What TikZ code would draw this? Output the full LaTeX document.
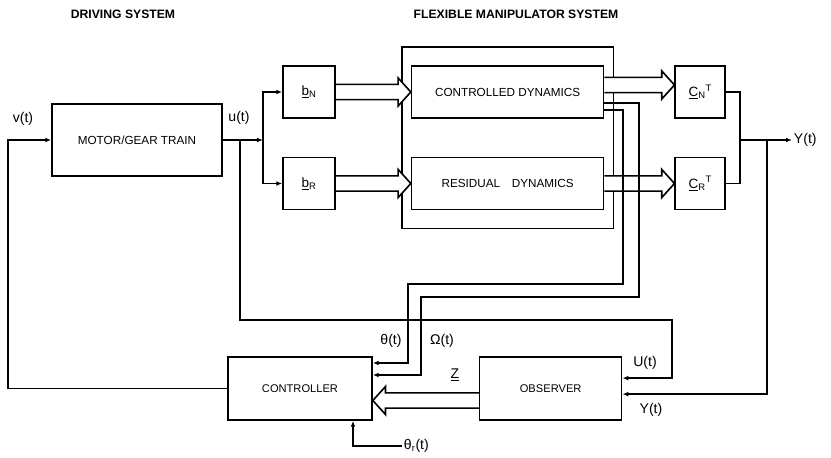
\documentclass[tikz,border=0pt]{standalone}
\usepackage{fontspec}
\setmainfont{Liberation Sans}
\usetikzlibrary{arrows.meta, positioning, calc, fit, backgrounds}

% hollow (double) arrow between two points of the same height
\newcommand{\fatarrow}[2]{%
  \coordinate (fa-b) at ($(#2)!0.38cm!(#1)$);
  \filldraw[line width=1.4pt, fill=white, draw=black] ($(#1)+(0,0.23cm)$) -- ($(fa-b)+(0,0.23cm)$)
    -- ($(fa-b)+(0,0.42cm)$) -- (#2) -- ($(fa-b)+(0,-0.42cm)$)
    -- ($(fa-b)+(0,-0.23cm)$) -- ($(#1)+(0,-0.23cm)$);
}

\begin{document}
\begin{tikzpicture}[x=0.03cm, y=-0.03cm, line width=1.4pt,
  blk/.style={rectangle, draw, minimum width=#1, minimum height=1.55cm,
              align=center, inner sep=2pt, font=\fontsize{10}{12}\selectfont},
  sig/.style={-{Latex[length=5pt, width=4pt]}},
  lbl/.style={inner sep=1pt, font=\fontsize{12}{14}\selectfont},
  mtx/.style={font=\fontsize{11.5}{13}\selectfont},
  title/.style={inner sep=1pt, font=\bfseries\fontsize{10.4}{12}\selectfont},
]
  \useasboundingbox (0,0) rectangle (831,458);

  % titles
  \node[title] (drvT) at (123,14) {DRIVING SYSTEM};
  \node[title] (flxT) at (516,14) {FLEXIBLE MANIPULATOR SYSTEM};

  % driving system
  \node[blk=5.1cm, minimum height=2.16cm] (motor) at (137,140) {MOTOR/GEAR TRAIN};
  \node[blk=1.56cm, mtx] (bN) at (309,92) {\underline{b}\textsubscript{N}};
  \node[blk=1.56cm, mtx] (bR) at (309,183.5) {\underline{b}\textsubscript{R}};

  % flexible manipulator
  \node[blk=5.76cm, right=2.25cm of bN] (cd) {CONTROLLED DYNAMICS};
  \node[blk=5.76cm, right=2.25cm of bR] (rd) {RESIDUAL\quad DYNAMICS};
  \node[blk=1.5cm, mtx, right=2.1cm of cd] (cN) {\underline{C}\textsubscript{N}\textsuperscript{T}};
  \node[blk=1.5cm, mtx, right=2.1cm of rd] (cR) {\underline{C}\textsubscript{R}\textsuperscript{T}};

  % controller and observer
  \node[blk=4.32cm, minimum height=1.89cm, font=\fontsize{9.5}{11}\selectfont] (ctrl) at (300,388.5) {CONTROLLER};
  \node[blk=4.26cm, minimum height=1.89cm, font=\fontsize{9.5}{11}\selectfont, right=3.18cm of ctrl] (obs) {OBSERVER};

  % outer box and hollow arrows
  \coordinate (cdO) at ($(cd.east)+(0,0.21cm)$);
  \coordinate (cNi) at (cN.west |- cdO);
  \coordinate (zS) at ($(obs.west)+(0,-0.36cm)$);
  \coordinate (zT) at (ctrl.east |- zS);
  \begin{scope}[on background layer]
    \node[draw, line width=1.4pt, fit=(cd)(rd), inner xsep=0.27cm, inner ysep=0.55cm] (flex) {};
    \fatarrow{bN.east}{cd.west}
    \fatarrow{bR.east}{rd.west}
    \fatarrow{cdO}{cNi}
    \fatarrow{rd.east}{cR.west}
    \fatarrow{zS}{zT}
  \end{scope}

  % input v(t)
  \coordinate (vL) at (8,140);
  \draw[sig] (ctrl.west) -| (vL) -- (motor.west);
  \node[lbl] (vLbl) at (23,119) {v(t)};

  % u(t) to b_N, b_R
  \coordinate (uJ) at (240,140);
  \coordinate (bJ) at (263,140);
  \draw (motor.east) -- (uJ);
  \draw[sig] (uJ) -- (bJ);
  \draw[sig] (bJ) |- (bN.west);
  \draw[sig] (bJ) |- (bR.west);
  \node[lbl] (uLbl) at (239,118) {u(t)};

  % output y(t)
  \coordinate (yJ) at (740,140);
  \coordinate (yF) at (767,140);
  \draw (cN.east) -| (yJ) |- (cR.east);
  \node[lbl, anchor=west] (yOut) at (792,140) {Y(t)};
  \draw[sig] (yJ) -- (yOut.west);

  % feedback to observer
  \coordinate (obsU) at ($(obs.east)+(0,0.31cm)$);
  \coordinate (obsY) at ($(obs.east)+(0,-0.17cm)$);
  \coordinate (uR) at (672,320);
  \draw[sig] (uJ) |- (uR) |- (obsU);
  \draw[sig] (yF) |- (obsY);
  \node[lbl] (uObs) at (645,363) {U(t)};
  \node[lbl] (yObs) at (651,410) {Y(t)};

  % theta and omega to controller
  \coordinate (omA) at ($(cd.east)+(0,-0.33cm)$);
  \coordinate (thA) at ($(cd.east)+(0,-0.54cm)$);
  \coordinate (omR) at (639,297);
  \coordinate (omL) at (421,297);
  \coordinate (thR) at (623,284);
  \coordinate (thL) at (408,284);
  \coordinate (omC) at ($(ctrl.east)+(0,0.405cm)$);
  \coordinate (thC) at ($(ctrl.east)+(0,0.765cm)$);
  \draw[sig] (omA) -| (omR) -- (omL) |- (omC);
  \draw[sig] (thA) -| (thR) -- (thL) |- (thC);
  \node[lbl] (thLbl) at (391,341) {θ(t)};
  \node[lbl] (omLbl) at (442,341) {Ω(t)};
  \node[lbl] (zLbl) at (455,375) {\underline{Z}};

  % reference input
  \coordinate (thrIn) at ($(ctrl.south)+(1.59cm,0)$);
  \node[lbl, anchor=west] (thr) at (402,446) {θ\textsubscript{r}(t)};
  \draw[sig] (thr.west) -| (thrIn);
\end{tikzpicture}
\end{document}
